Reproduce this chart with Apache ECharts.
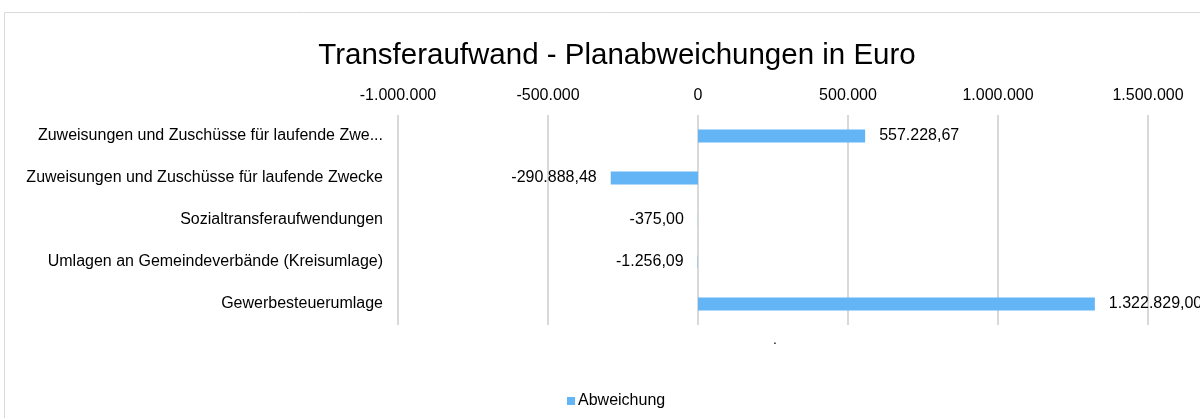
<!DOCTYPE html>
<html>
<head>
<meta charset="utf-8">
<script src="https://cdn.jsdelivr.net/npm/echarts@6/dist/echarts.min.js"></script>
<style>
html,body{margin:0;padding:0;background:#fff;}
#main{width:1200px;height:418px;}
</style>
</head>
<body>
<div id="main"></div>
<script>
const titleText = 'Transferaufwand - Planabweichungen in Euro';
const categories = [
  'Zuweisungen und Zuschüsse für laufende Zwe...',
  'Zuweisungen und Zuschüsse für laufende Zwecke',
  'Sozialtransferaufwendungen',
  'Umlagen an Gemeindeverbände (Kreisumlage)',
  'Gewerbesteuerumlage'
];
const values = [557228.67, -290888.48, -375.00, -1256.09, 1322829.00];
const seriesName = 'Abweichung';
const axisMin = -1000000;
const axisMax = 1500000;
const axisInterval = 500000;

function fmtDE(v, dec) {
  const neg = v < 0;
  const s = Math.abs(v).toFixed(dec);
  let [ip, fp] = s.split('.');
  ip = ip.replace(/\B(?=(\d{3})+(?!\d))/g, '.');
  return (neg ? '-' : '') + ip + (fp ? ',' + fp : '');
}

const chart = echarts.init(document.getElementById('main'));
const font = '"Liberation Sans", Arial, sans-serif';
chart.setOption({
  animation: false,
  backgroundColor: '#fff',
  textStyle: { fontFamily: font },
  title: {
    text: titleText,
    left: 612, top: 36, textAlign: 'center',
    textStyle: { fontFamily: font, fontSize: 29.5, fontWeight: 'normal', color: '#000' }
  },
  graphic: [
    { type: 'rect', shape: { x: 4.5, y: 12.5, width: 1220, height: 430 },
      style: { fill: 'none', stroke: '#d9d9d9', lineWidth: 1 }, silent: true, z: -1 },
    { type: 'text', left: 773, top: 333,
      style: { text: '.', fontSize: 14, fill: '#000', fontFamily: font } }
  ],
  legend: {
    data: [seriesName],
    left: 562, top: 388,
    icon: 'rect', itemWidth: 8, itemHeight: 8, itemGap: 4,
    textStyle: { fontFamily: font, fontSize: 16, color: '#000', padding: [0,0,0,-2] }
  },
  grid: { left: 398, right: 52, top: 115, height: 210, containLabel: false },
  xAxis: {
    type: 'value', position: 'top',
    min: axisMin, max: axisMax, interval: axisInterval,
    axisLine: { show: false }, axisTick: { show: false },
    axisLabel: { fontFamily: font, fontSize: 16, color: '#000', margin: 11,
      formatter: v => fmtDE(v, 0) },
    splitLine: { show: true, lineStyle: { color: '#d9d9d9', width: 2 } }
  },
  yAxis: {
    type: 'category', data: categories, inverse: true,
    axisLine: { show: false }, axisTick: { show: false },
    axisLabel: { fontFamily: font, fontSize: 16, color: '#000', margin: 15 }
  },
  series: [{
    name: seriesName, type: 'bar',
    data: values.map(v => ({ value: v, label: { position: v < 0 ? 'left' : 'right' } })),
    barWidth: 13,
    itemStyle: { color: '#64b5f6' },
    label: {
      show: true, fontFamily: font, fontSize: 16, color: '#000', distance: 14,
      formatter: p => fmtDE(p.value, 2)
    }
  }]
});
</script>
</body>
</html>
